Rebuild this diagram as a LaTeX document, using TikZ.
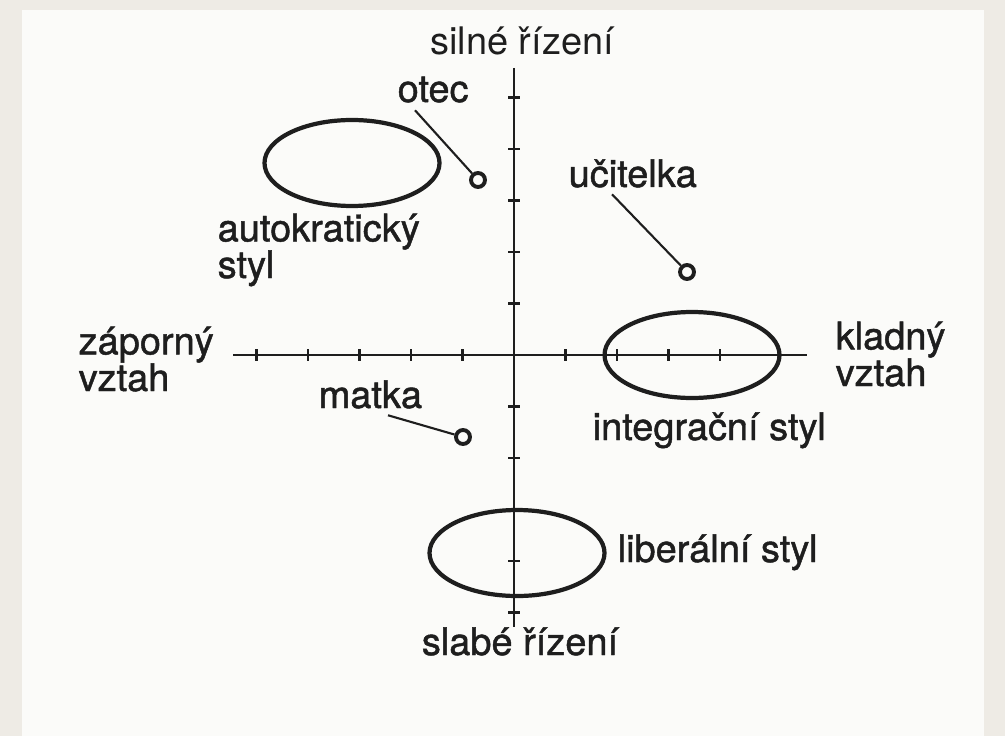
\documentclass[tikz,border=0pt]{standalone}
\usepackage{fontspec}
\setmainfont{TeX Gyre Heros}
\newfontfamily\heavyfont[FakeBold=1.2]{TeX Gyre Heros}
\usetikzlibrary{positioning, shapes.geometric}
\usepackage{xcolor}
\definecolor{frame}{RGB}{238,235,229}
\definecolor{paper}{RGB}{251,251,249}
\definecolor{ink}{RGB}{30,30,30}

\begin{document}
\begin{tikzpicture}[
    x=0.1mm, y=-0.1mm,
    lbl/.style={inner sep=0pt, text=ink, font=\heavyfont\fontsize{10.8}{10.2}\selectfont, align=left},
    thinlbl/.style={lbl, font=\fontsize{10.8}{10.2}\selectfont},
    axis/.style={draw=ink, line width=0.6pt},
    area/.style={ellipse, draw=ink, line width=1.2pt, minimum width=17.5mm, minimum height=8.6mm, inner sep=0pt},
    person/.style={circle, draw=ink, fill=paper, line width=1.1pt, minimum size=1.4mm, inner sep=0pt},
    pointer/.style={draw=ink, line width=0.6pt}
]

% Paper
\useasboundingbox (0,0) rectangle (1005,736);
\fill[frame] (0,0) rectangle (1005,736);
\fill[paper] (22,10) rectangle (984,736);

% Axes
\coordinate (o) at (514,355);
\coordinate (west) at (233,355);
\coordinate (east) at (807,355);
\coordinate (north) at (514,68);
\coordinate (south) at (514,627);
\draw[axis] (west) -- (east);
\draw[axis] (north) -- (south);
\foreach \k in {-5,...,-1,1,2,3,4}
    \draw[axis] ([shift={(\k*51.5,-6)}]o) -- ++(0,12);
\foreach \k in {-5,...,-1,1,2,3,4,5}
    \draw[axis] ([shift={(-6,\k*51.5)}]o) -- ++(12,0);

% Axis labels
\node[thinlbl, anchor=base] (strong) at (522,55) {silné řízení};
\node[lbl, anchor=base] (weak) at (520,655) {slabé řízení};
\node[lbl, anchor=base west] (negative) at (78,391) {záporný\\[-0.8pt]vztah};
\node[lbl, anchor=base west] (positive) at (835,386) {kladný\\[-0.8pt]vztah};

% Styles
\node[area] (autocratic) at (352,163) {};
\node[area] (integrative) at (692,355) {};
\node[area] (liberal) at (517,553) {};
\node[lbl, anchor=base west] (autolabel) at (217,278) {autokratický\\[-0.8pt]styl};
\node[lbl, anchor=base west] (integlabel) at (592,440) {integrační styl};
\node[lbl, anchor=base west] (liblabel) at (617,562) {liberální styl};

% Persons
\node[person] (father) at (478,180) {};
\node[person] (teacher) at (687,272) {};
\node[person] (mother) at (463,437) {};
\node[lbl, anchor=base west] (fatherlabel) at (397,102) {otec};
\node[lbl, anchor=base west] (teacherlabel) at (568,187) {učitelka};
\node[lbl, anchor=base west] (motherlabel) at (318,408) {matka};

\draw[pointer] ([shift={(18,7)}]fatherlabel.south west) -- (father);
\draw[pointer] ([shift={(44,6)}]teacherlabel.south west) -- (teacher);
\draw[pointer] ([shift={(70,6)}]motherlabel.south west) -- (mother);

\end{tikzpicture}
\end{document}
